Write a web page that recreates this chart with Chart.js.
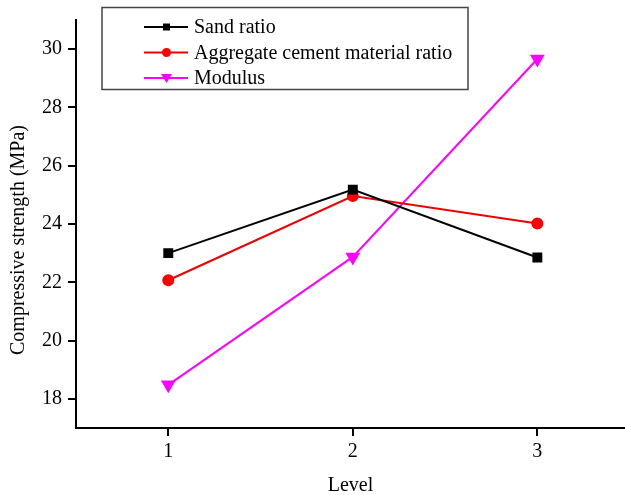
<!DOCTYPE html>
<html>
<head>
<meta charset="utf-8">
<script src="https://cdn.jsdelivr.net/npm/chart.js@4"></script>
<style>
  html, body { margin: 0; padding: 0; background: #fff; }
</style>
</head>
<body>
<canvas id="chart" width="625" height="495"></canvas>
<script>
// levels on the x axis
const levels = [1, 2, 3];
const yTicks = [18, 20, 22, 24, 26, 28, 30];

// series
const sandRatio = [23.0, 25.18, 22.85];
const aggCementRatio = [22.07, 24.96, 24.02];
const modulus = [18.48, 22.87, 29.66];

const seriesNames = ['Sand ratio', 'Aggregate cement material ratio', 'Modulus'];
const yTitle = 'Compressive strength (MPa)';

const font = "'Liberation Serif', 'Times New Roman', serif";

function pts(values) {
    return levels.map((lv, i) => ({ x: lv, y: values[i] }));
}

// legend box in the upper left + y axis title, drawn by hand
const boxLegend = {
    id: 'boxLegend',
    afterDraw(chart) {
        const ctx = chart.ctx;
        ctx.save();
        ctx.strokeStyle = '#444';
        ctx.lineWidth = 1.5;
        ctx.strokeRect(102, 7.5, 366, 82);
        const rows = [27, 52.5, 78];
        chart.data.datasets.forEach((ds, i) => {
            const y = rows[i];
            ctx.strokeStyle = ds.borderColor;
            ctx.lineWidth = 2;
            ctx.beginPath();
            ctx.moveTo(144, y);
            ctx.lineTo(188, y);
            ctx.stroke();
            ctx.fillStyle = ds.pointBackgroundColor;
            ctx.beginPath();
            if (ds.pointStyle === 'rect') {
                ctx.rect(163, y - 3.5, 7, 7);
            } else if (ds.pointStyle === 'circle') {
                ctx.arc(166.5, y, 4.5, 0, Math.PI * 2);
            } else {
                ctx.moveTo(161, y - 4);
                ctx.lineTo(172, y - 4);
                ctx.lineTo(166.5, y + 5);
                ctx.closePath();
            }
            ctx.fill();
            ctx.fillStyle = '#000';
            ctx.font = '20px ' + font;
            ctx.textBaseline = 'middle';
            ctx.textAlign = 'left';
            ctx.fillText(ds.label, 194, y + 1);
        });

        ctx.translate(19, 240);
        ctx.rotate(-Math.PI / 2);
        ctx.textAlign = 'center';
        ctx.textBaseline = 'middle';
        ctx.fillStyle = '#000';
        ctx.font = '20px ' + font;
        ctx.fillText(yTitle, 0, 0);
        ctx.restore();
    }
};

new Chart(document.getElementById('chart'), {
    type: 'line',
    data: {
        datasets: [
            {
                label: seriesNames[0],
                data: pts(sandRatio),
                borderColor: '#000000',
                backgroundColor: '#000000',
                pointBackgroundColor: '#000000',
                pointBorderColor: '#000000',
                pointStyle: 'rect',
                pointRadius: 5.6,
                borderWidth: 2
            },
            {
                label: seriesNames[1],
                data: pts(aggCementRatio),
                borderColor: '#ee0000',
                backgroundColor: '#ff0000',
                pointBackgroundColor: '#ff0000',
                pointBorderColor: '#ff0000',
                pointStyle: 'circle',
                pointRadius: 5,
                borderWidth: 2
            },
            {
                label: seriesNames[2],
                data: pts(modulus),
                borderColor: '#ff00ff',
                backgroundColor: '#ff00ff',
                pointBackgroundColor: '#ff00ff',
                pointBorderColor: '#ff00ff',
                pointStyle: 'triangle',
                pointRotation: 180,
                pointRadius: 6.5,
                borderWidth: 2
            }
        ]
    },
    options: {
        responsive: false,
        animation: false,
        layout: { autoPadding: false, padding: { top: 20, right: 0, bottom: 0, left: 0 } },
        plugins: {
            legend: { display: false },
            tooltip: { enabled: false }
        },
        scales: {
            x: {
                type: 'linear',
                min: 0.5,
                max: 3.475,
                afterBuildTicks: s => { s.ticks = levels.map(v => ({ value: v })); },
                afterFit: s => { s.height = 67; s.paddingLeft = 0; s.paddingRight = 0; },
                border: { color: '#000', width: 2 },
                grid: { drawOnChartArea: false, drawTicks: true, tickLength: 8, color: '#000', lineWidth: 2 },
                ticks: { color: '#000', padding: 4, font: { family: font, size: 20 } },
                title: { display: true, text: 'Level', color: '#000', padding: { top: 0, bottom: -3 }, font: { family: font, size: 20 } }
            },
            y: {
                min: 17,
                max: 31,
                afterBuildTicks: s => { s.ticks = yTicks.map(v => ({ value: v })); },
                afterFit: s => { s.width = 76; },
                border: { color: '#000', width: 2 },
                grid: { drawOnChartArea: false, drawTicks: true, tickLength: 8, color: '#000', lineWidth: 2 },
                ticks: { color: '#000', padding: 6, font: { family: font, size: 20 } },
                title: { display: false }
            }
        }
    },
    plugins: [boxLegend]
});
</script>
</body>
</html>
